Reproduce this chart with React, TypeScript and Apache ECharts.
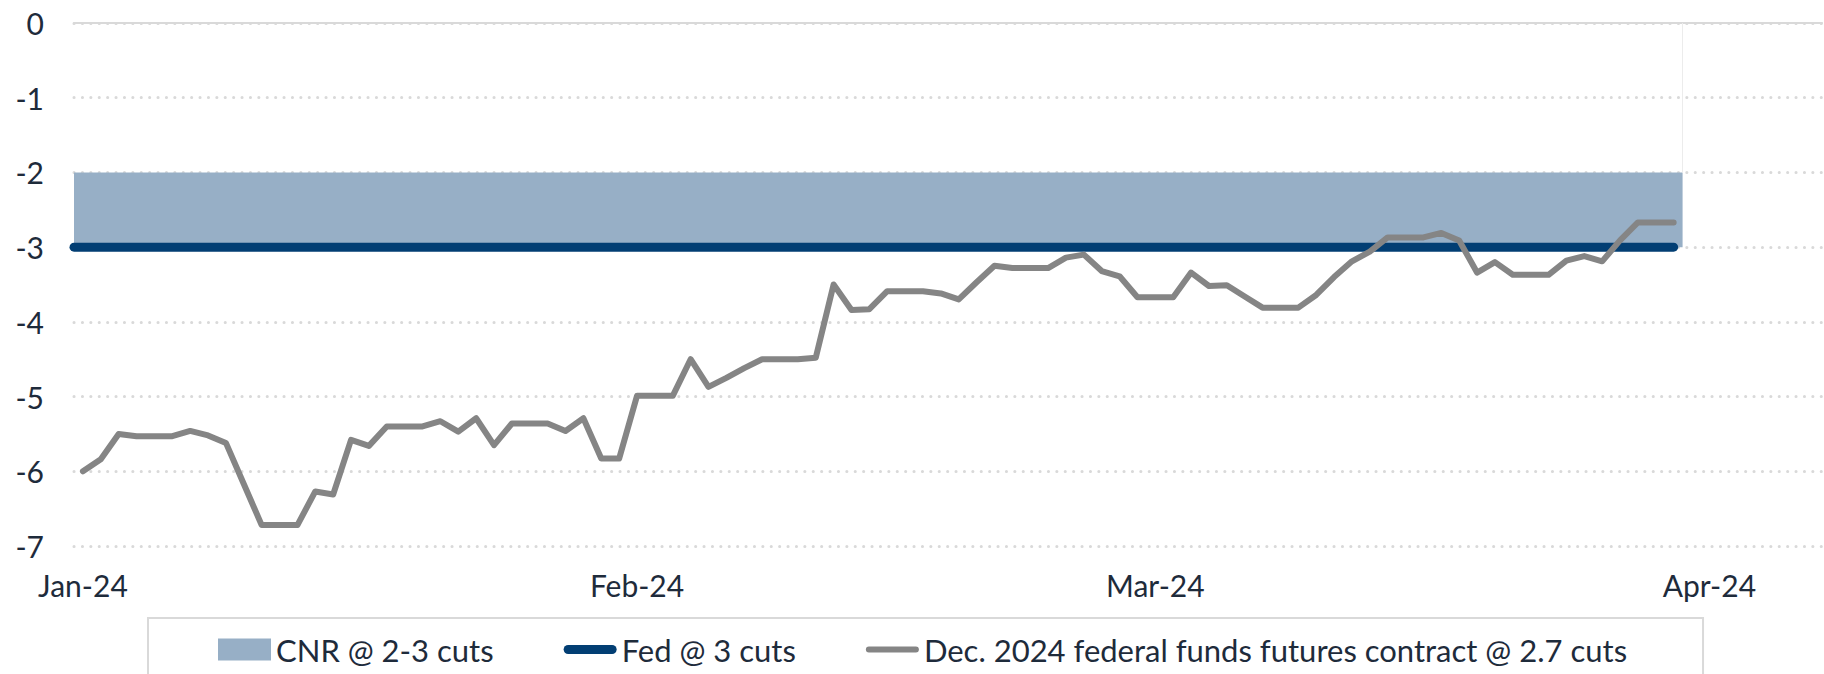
import React, { useEffect, useRef } from "react";
import * as echarts from "echarts";

// ---- data ----
const axisStart = "2024-01-02";
const tickDates = ["2024-01-02", "2024-02-02", "2024-03-02", "2024-04-02"];
const tickLabels = ["Jan-24", "Feb-24", "Mar-24", "Apr-24"];
const yTicks = [0, -1, -2, -3, -4, -5, -6, -7];

const futuresDates = [
  "2024-01-02", "2024-01-03", "2024-01-04", "2024-01-05", "2024-01-06", "2024-01-07",
  "2024-01-08", "2024-01-09", "2024-01-10", "2024-01-11", "2024-01-12", "2024-01-13", "2024-01-14",
  "2024-01-15", "2024-01-16", "2024-01-17", "2024-01-18", "2024-01-19", "2024-01-20", "2024-01-21",
  "2024-01-22", "2024-01-23", "2024-01-24", "2024-01-25", "2024-01-26", "2024-01-27", "2024-01-28",
  "2024-01-29", "2024-01-30", "2024-01-31", "2024-02-01", "2024-02-02", "2024-02-03", "2024-02-04",
  "2024-02-05", "2024-02-06", "2024-02-07", "2024-02-08", "2024-02-09", "2024-02-10", "2024-02-11",
  "2024-02-12", "2024-02-13", "2024-02-14", "2024-02-15", "2024-02-16", "2024-02-17", "2024-02-18",
  "2024-02-19", "2024-02-20", "2024-02-21", "2024-02-22", "2024-02-23", "2024-02-24", "2024-02-25",
  "2024-02-26", "2024-02-27", "2024-02-28", "2024-02-29", "2024-03-01", "2024-03-02", "2024-03-03",
  "2024-03-04", "2024-03-05", "2024-03-06", "2024-03-07", "2024-03-08", "2024-03-09", "2024-03-10",
  "2024-03-11", "2024-03-12", "2024-03-13", "2024-03-14", "2024-03-15", "2024-03-16", "2024-03-17",
  "2024-03-18", "2024-03-19", "2024-03-20", "2024-03-21", "2024-03-22", "2024-03-23", "2024-03-24",
  "2024-03-25", "2024-03-26", "2024-03-27", "2024-03-28", "2024-03-29", "2024-03-30", "2024-03-31",
];
const futuresValues = [
  -6.0, -5.84, -5.5, -5.53, -5.53, -5.53,
  -5.46, -5.52, -5.62, -6.17, -6.72, -6.72, -6.72,
  -6.27, -6.31, -5.58, -5.66, -5.4, -5.4, -5.4,
  -5.33, -5.47, -5.29, -5.65, -5.36, -5.36, -5.36,
  -5.46, -5.29, -5.83, -5.83, -4.99, -4.99, -4.99,
  -4.5, -4.87, -4.75, -4.62, -4.5, -4.5, -4.5,
  -4.48, -3.5, -3.84, -3.83, -3.59, -3.59, -3.59,
  -3.62, -3.7, -3.47, -3.25, -3.28, -3.28, -3.28,
  -3.14, -3.1, -3.32, -3.39, -3.67, -3.67, -3.67,
  -3.34, -3.52, -3.51, -3.66, -3.81, -3.81, -3.81,
  -3.64, -3.4, -3.19, -3.06, -2.87, -2.87, -2.87,
  -2.81, -2.91, -3.34, -3.2, -3.37, -3.37, -3.37,
  -3.18, -3.12, -3.19, -2.91, -2.67, -2.67, -2.67,
];

const bandFrom = "2024-01-02";
const bandTo = "2024-03-31";
const bandUpper = -2;
const bandLower = -3;

const fedFrom = "2024-01-02";
const fedTo = "2024-03-31";
const fedValue = -3;

const seriesNames = [
  "CNR @ 2-3 cuts",
  "Fed @ 3 cuts",
  "Dec. 2024 federal funds futures contract @ 2.7 cuts",
];

// ---- helpers ----
const DAY = 86400000;
const dayIndex = (s: string) => (Date.parse(s) - Date.parse(axisStart)) / DAY;

const TEXT = "#1e2b3b";
const BAND = "#97afc6";
const NAVY = "#023e73";
const GREY = "#858585";
const GRID = "#d9d9d9";

export default function App() {
  const ref = useRef<HTMLDivElement>(null);

  useEffect(() => {
    if (!ref.current) return;
    const chart = echarts.init(ref.current, null, { renderer: "svg" });
    const tickIdx = tickDates.map(dayIndex);
    const half = 0.5;

    const option: any = {
      animation: false,
      backgroundColor: "#ffffff",
      textStyle: { fontFamily: "Lato", color: TEXT },
      grid: {
        left: 74,
        top: 23,
        right: 2,
        bottom: 128,
        containLabel: false,
        outerBoundsMode: "none",
      },
      legend: {
        left: 148,
        top: 618,
        padding: [16, 76, 16, 70],
        borderColor: GRID,
        borderWidth: 2,
        itemWidth: 53,
        itemHeight: 22,
        itemGap: 70,
        selectedMode: false,
        textStyle: { fontSize: 31, color: TEXT, fontFamily: "Lato" },
        data: [
          { name: seriesNames[0], icon: "rect" },
          {
            name: seriesNames[1],
            icon: "path://M4.5,0H48.5A4.5,4.5,0,0,1,48.5,9H4.5A4.5,4.5,0,0,1,4.5,0Z",
          },
          {
            name: seriesNames[2],
            icon: "path://M3,0H50A3,3,0,0,1,50,6H3A3,3,0,0,1,3,0Z",
          },
        ],
      },
      xAxis: [
        {
          type: "value",
          position: "bottom",
          min: dayIndex(axisStart) - half,
          max: 97.3,
          axisLine: { show: false },
          axisTick: { show: false },
          splitLine: { show: false },
          axisLabel: {
            customValues: tickIdx,
            fontSize: 30,
            color: TEXT,
            fontFamily: "Lato",
            margin: 24,
            formatter: (v: number) => {
              const k = tickIdx.indexOf(Math.round(v));
              return k >= 0 ? tickLabels[k] : "";
            },
          },
        },
        {
          type: "value",
          position: "top",
          min: dayIndex(axisStart) - half,
          max: 97.3,
          axisLine: { show: true, onZero: false, lineStyle: { color: GRID, width: 2 } },
          axisTick: { show: false },
          axisLabel: { show: false },
          splitLine: { show: false },
        },
      ],
      yAxis: {
        type: "value",
        min: yTicks[yTicks.length - 1],
        max: yTicks[0],
        interval: 1,
        axisLine: { show: false },
        axisTick: { show: false },
        axisLabel: {
          fontSize: 30,
          color: TEXT,
          fontFamily: "Lato",
          margin: 30,
        },
        splitLine: {
          show: true,
          lineStyle: { color: GRID, width: 3, type: [0.1, 8.3], cap: "round" },
        },
      },
      series: [
        {
          name: seriesNames[0],
          type: "line",
          xAxisIndex: 0,
          symbol: "none",
          itemStyle: { color: BAND },
          lineStyle: { width: 0, color: BAND },
          areaStyle: { color: BAND, opacity: 1, origin: bandLower },
          data: [
            [dayIndex(bandFrom) - half, bandUpper],
            [dayIndex(bandTo) + half, bandUpper],
          ],
          markLine: {
            silent: true,
            symbol: "none",
            label: { show: false },
            lineStyle: { color: "#ececec", width: 1, type: "solid" },
            data: [
              [
                { coord: [dayIndex(bandTo) + half, 0] },
                { coord: [dayIndex(bandTo) + half, bandUpper] },
              ],
            ],
          },
          z: 1,
        },
        {
          name: seriesNames[1],
          type: "line",
          xAxisIndex: 0,
          symbol: "none",
          itemStyle: { color: NAVY },
          lineStyle: { width: 9, color: NAVY, cap: "round" },
          data: [
            [dayIndex(fedFrom) - half, fedValue],
            [dayIndex(fedTo), fedValue],
          ],
          z: 2,
        },
        {
          name: seriesNames[2],
          type: "line",
          xAxisIndex: 0,
          symbol: "none",
          itemStyle: { color: GREY },
          lineStyle: { width: 6, color: GREY, cap: "round", join: "round" },
          data: futuresDates.map((d, i) => [dayIndex(d), futuresValues[i]]),
          z: 3,
        },
      ],
    };
    chart.setOption(option);
    return () => chart.dispose();
  }, []);

  return (
    <div
      ref={ref}
      style={{ position: "absolute", left: 0, top: 0, width: 1824, height: 674 }}
    />
  );
}
